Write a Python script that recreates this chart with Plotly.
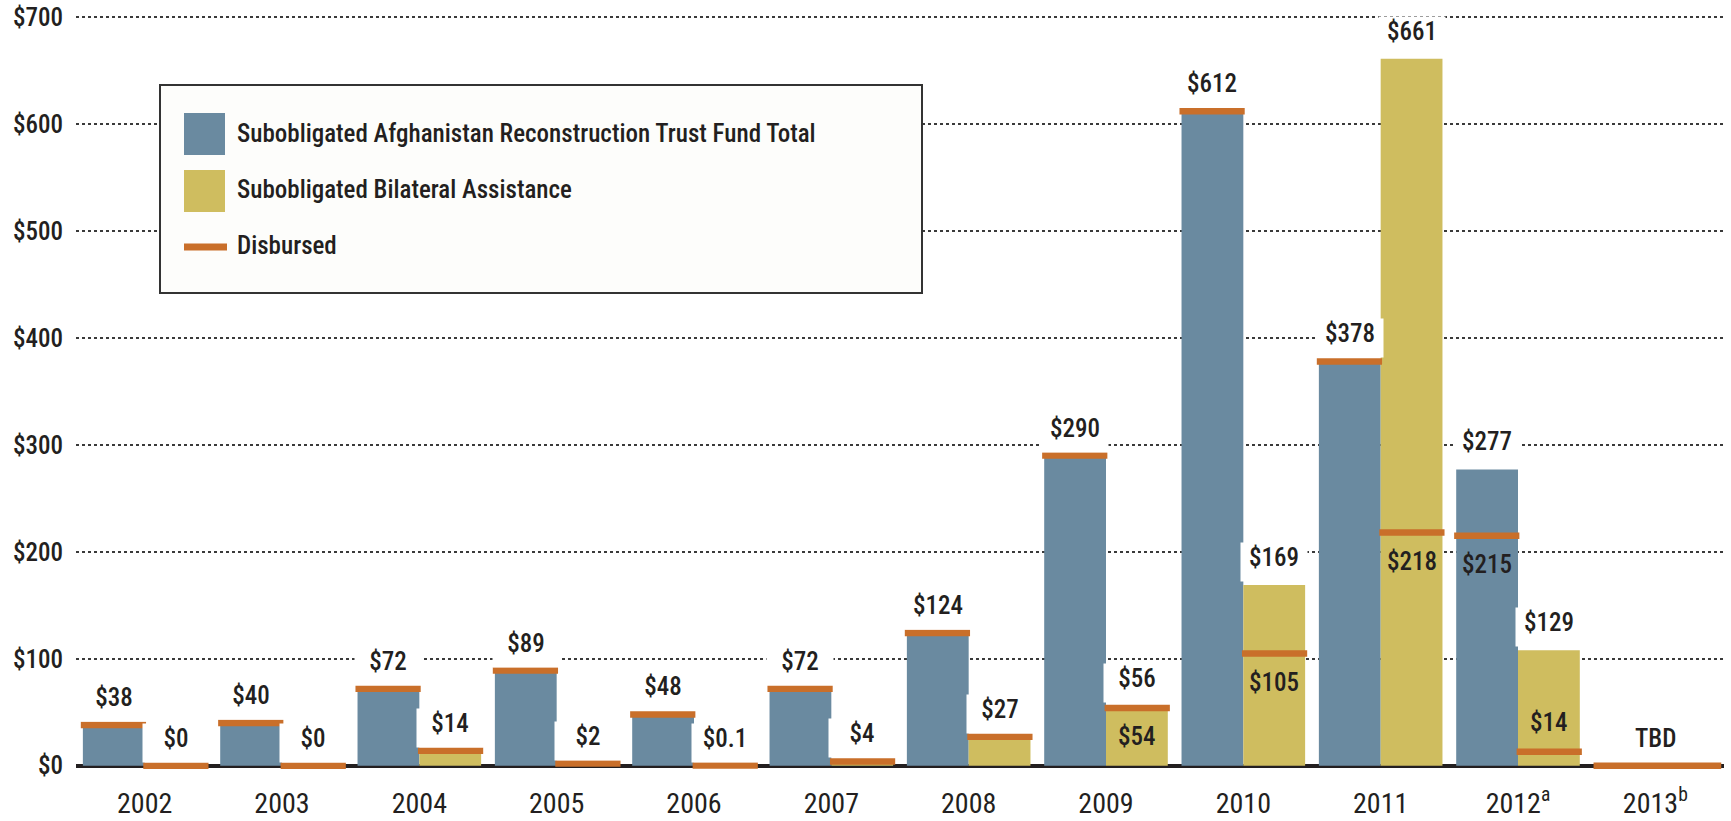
import plotly.graph_objects as go

# ARTF vs bilateral subobligations and disbursements, $ millions
years = ["2002", "2003", "2004", "2005", "2006", "2007", "2008", "2009", "2010", "2011", "2012", "2013"]
year_ticks = ["2002", "2003", "2004", "2005", "2006", "2007", "2008", "2009", "2010", "2011",
              "2012<sup>a</sup>", "2013<sup>b</sup>"]
y_ticks = [0, 100, 200, 300, 400, 500, 600, 700]
y_tick_text = ["$0", "$100", "$200", "$300", "$400", "$500", "$600", "$700"]

artf_total = [38, 40, 72, 89, 48, 72, 124, 290, 612, 378, 277, None]
bilateral_total = [0, 0, 14, 2, 0.1, 4, 27, 56, 169, 661, 108, None]
artf_disbursed = [38, 40, 72, 89, 48, 72, 124, 290, 612, 378, 215, None]
bilateral_disbursed = [0, 0, 14, 2, 0.1, 4, 27, 54, 105, 218, 13, None]
pending_disbursed = [None] * 11 + [0]

artf_labels = ["$38", "$40", "$72", "$89", "$48", "$72", "$124", "$290", "$612", "$378", "$277", None]
bilateral_labels = ["$0", "$0", "$14", "$2", "$0.1", "$4", "$27", "$56", "$169", "$661", "$129", None]
artf_disb_labels = [None] * 10 + ["$215", None]
bilateral_disb_labels = [None] * 7 + ["$54", "$105", "$218", "$14", None]
pending_labels = [None] * 11 + ["TBD"]

legend_names = ["Subobligated Afghanistan Reconstruction Trust Fund Total",
                "Subobligated Bilateral Assistance", "Disbursed"]

BLUE = "#6A8AA0"
GOLD = "#CFBD5F"
ORANGE = "#C96F2A"
INK = "#231F20"
FONT = "Roboto Condensed, DejaVu Sans Condensed, sans-serif"

idx = list(range(len(years)))

fig = go.Figure()

fig.add_trace(go.Bar(x=idx, y=artf_total, width=0.45, offset=-0.45,
                     marker=dict(color=BLUE, line=dict(width=0)),
                     name=legend_names[0], showlegend=False))
fig.add_trace(go.Bar(x=idx, y=bilateral_total, width=0.45, offset=0,
                     marker=dict(color=GOLD, line=dict(width=0)),
                     name=legend_names[1], showlegend=False))

# disbursed markers: short horizontal strokes across each bar slot
xs, ys = [], []
for i, v in enumerate(artf_disbursed):
    if v is not None:
        xs += [i - 0.465, i + 0.01, None]
        ys += [v, v, None]
for i, v in enumerate(bilateral_disbursed):
    if v is not None:
        xs += [i - 0.01, i + 0.465, None]
        ys += [v, v, None]
for i, v in enumerate(pending_disbursed):
    if v is not None:
        xs += [i - 0.45, i + 0.48, None]
        ys += [v, v, None]
fig.add_trace(go.Scatter(x=xs, y=ys, mode="lines", line=dict(color=ORANGE, width=6.5),
                         name=legend_names[2], showlegend=False, hoverinfo="skip"))

annotations = []


def label_font(size=25, weight=500):
    return dict(family=FONT, size=size, color=INK, weight=weight)


def top_label(x, y, text):
    annotations.append(dict(x=x, y=y, xref="x", yref="y", text=text, showarrow=False,
                            yanchor="bottom", yshift=3, width=66, height=38, valign="top",
                            bgcolor="white", borderpad=0, font=label_font()))


def inner_label(x, y, text):
    shift = -29 if y >= 30 else 29
    annotations.append(dict(x=x, y=y, xref="x", yref="y", text=text, showarrow=False,
                            yanchor="middle", yshift=shift, font=label_font()))


for i in idx:
    if artf_labels[i]:
        top_label(i - 0.225, max(artf_total[i], artf_disbursed[i]), artf_labels[i])
    if bilateral_labels[i]:
        top_label(i + 0.225, max(bilateral_total[i], bilateral_disbursed[i]), bilateral_labels[i])
    if artf_disb_labels[i]:
        inner_label(i - 0.225, artf_disbursed[i], artf_disb_labels[i])
    if bilateral_disb_labels[i]:
        inner_label(i + 0.225, bilateral_disbursed[i], bilateral_disb_labels[i])
    if pending_labels[i]:
        annotations.append(dict(x=i, y=pending_disbursed[i], xref="x", yref="y",
                                text=pending_labels[i], showarrow=False, yanchor="middle",
                                yshift=27, font=label_font()))

# hand-drawn legend box (pixel layout converted to paper coords)
L, R, T, B = 76, 1724, 16, 770


def px(x):
    return (x - L) / (R - L)


def py(y):
    return (B - y) / (B - T)


shapes = [
    dict(type="rect", xref="paper", yref="paper", x0=px(160), x1=px(922), y0=py(293), y1=py(85),
         fillcolor="#FDFDFB", line=dict(color="#333333", width=2), layer="above"),
    dict(type="rect", xref="paper", yref="paper", x0=px(184), x1=px(225), y0=py(155), y1=py(113),
         fillcolor=BLUE, line=dict(width=0), layer="above"),
    dict(type="rect", xref="paper", yref="paper", x0=px(184), x1=px(225), y0=py(212), y1=py(170),
         fillcolor=GOLD, line=dict(width=0), layer="above"),
    dict(type="line", xref="paper", yref="paper", x0=px(184), x1=px(227), y0=py(247), y1=py(247),
         line=dict(color=ORANGE, width=7), layer="above"),
]
for name, yc in zip(legend_names, [133, 190, 245]):
    annotations.append(dict(x=px(235), y=py(yc), xref="paper", yref="paper", text=name,
                            showarrow=False, xanchor="left", yanchor="middle",
                            font=label_font(25)))

fig.update_layout(
    width=1731, height=821,
    margin=dict(l=L, r=1731 - R, t=T, b=821 - B),
    plot_bgcolor="white", paper_bgcolor="white",
    barmode="overlay",
    annotations=annotations,
    shapes=shapes,
    xaxis=dict(range=[-0.5, 11.5], tickvals=idx, ticktext=year_ticks, showgrid=False,
               zeroline=False, ticks="", ticklabelstandoff=14, automargin=False,
               tickfont=label_font(28, "normal")),
    yaxis=dict(range=[-4, 701], tickvals=y_ticks, ticktext=y_tick_text,
               showgrid=True, gridcolor="#3A3A3A", griddash="dot", gridwidth=1.5,
               zeroline=True, zerolinecolor=INK, zerolinewidth=4, ticks="",
               ticklabelstandoff=12, automargin=False, tickfont=label_font(25)),
    showlegend=False,
)

fig.write_html("out.html", config={"displayModeBar": False},
               post_script="document.body.style.margin = '0';")
